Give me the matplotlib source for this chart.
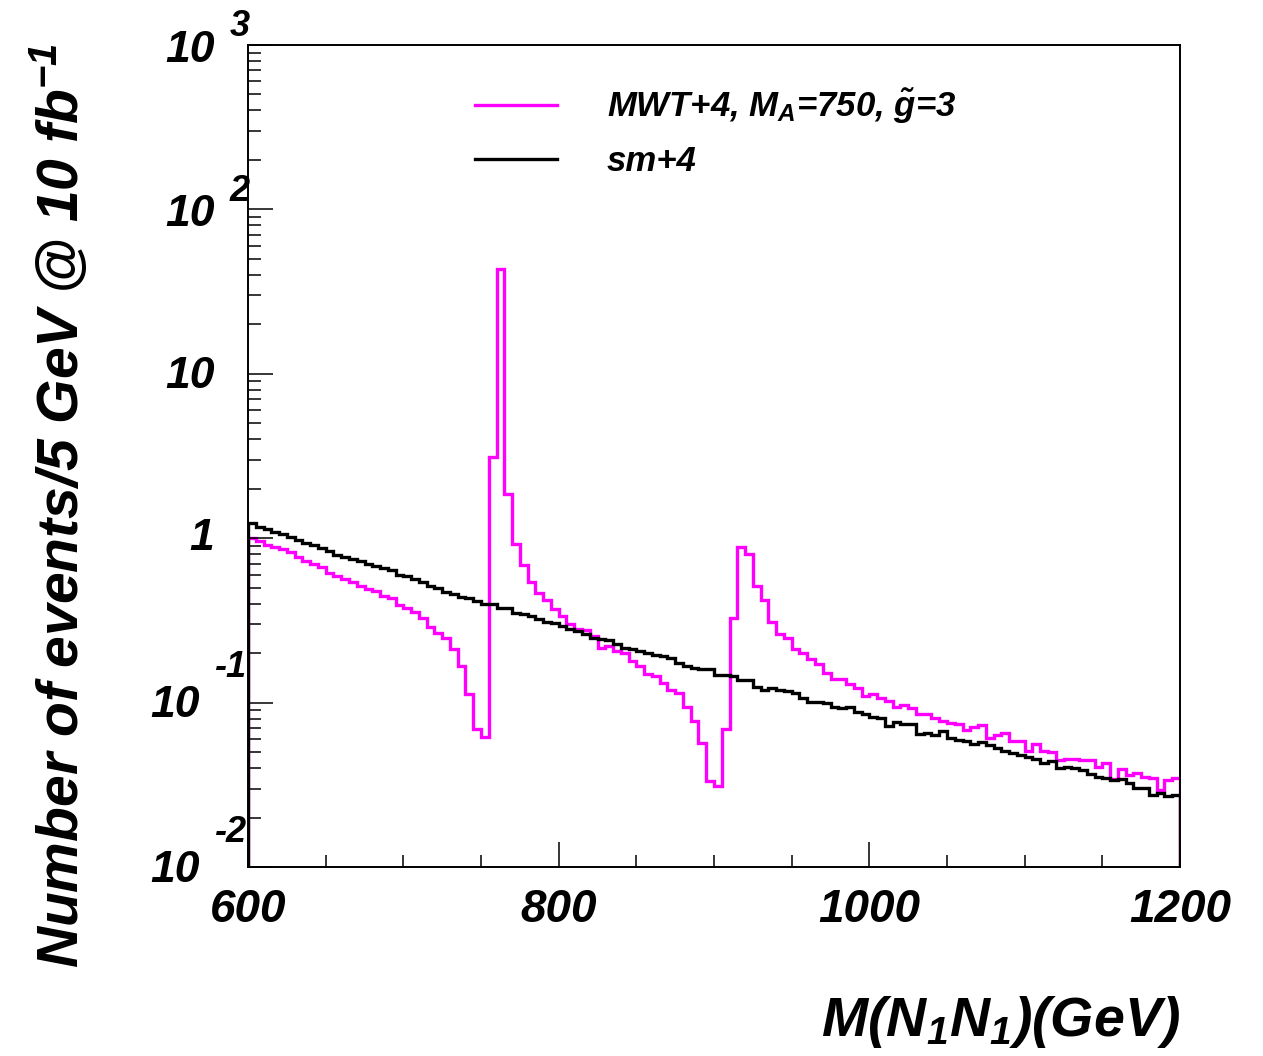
import numpy as np
import matplotlib
matplotlib.use("Agg")
import matplotlib.pyplot as plt
from matplotlib.ticker import FixedLocator, NullFormatter

plt.rcParams["font.family"] = ["Liberation Sans", "DejaVu Sans"]
plt.rcParams["mathtext.fontset"] = "custom"
plt.rcParams["mathtext.rm"] = "Liberation Sans:bold:italic"
plt.rcParams["mathtext.it"] = "Liberation Sans:bold:italic"
plt.rcParams["mathtext.bf"] = "Liberation Sans:bold:italic"

# histogram binning: 5 GeV bins from 600 to 1200 GeV
bin_lo = 600
bin_hi = 1200
bin_width = 5

# events / 5 GeV, MWT+4 (M_A = 750, g~ = 3)
mwt = [0.997, 0.962, 0.909, 0.884, 0.855, 0.824, 0.772, 0.727, 0.700, 0.668,
       0.617, 0.589, 0.562, 0.544, 0.512, 0.488, 0.477, 0.445, 0.435, 0.392,
       0.374, 0.356, 0.328, 0.289, 0.266, 0.248, 0.211, 0.167, 0.113, 0.0694,
       0.0620, 3.12, 43.6, 1.846, 0.917, 0.685, 0.540, 0.466, 0.418, 0.369,
       0.338, 0.302, 0.281, 0.278, 0.254, 0.216, 0.222, 0.205, 0.200, 0.178,
       0.168, 0.149, 0.145, 0.132, 0.120, 0.115, 0.0944, 0.0773, 0.0570, 0.0334,
       0.0311, 0.0687, 0.328, 0.884, 0.805, 0.512, 0.418, 0.308, 0.260, 0.246,
       0.211, 0.201, 0.185, 0.171, 0.152, 0.140, 0.140, 0.129, 0.122, 0.110,
       0.113, 0.107, 0.102, 0.0940, 0.0967, 0.0922, 0.0856, 0.0856, 0.0809, 0.0773,
       0.0747, 0.0744, 0.0677, 0.0710, 0.0731, 0.0612, 0.0635, 0.0656, 0.0586, 0.0586,
       0.0508, 0.0557, 0.0508, 0.0503, 0.0445, 0.0456, 0.0456, 0.0448, 0.0448, 0.0406,
       0.0431, 0.0344, 0.0392, 0.0363, 0.0375, 0.0353, 0.0349, 0.0296, 0.0336, 0.0349]

# events / 5 GeV, sm+4
sm4 = [1.242, 1.175, 1.131, 1.095, 1.055, 1.017, 0.975, 0.939, 0.904, 0.876,
       0.836, 0.786, 0.772, 0.743, 0.727, 0.700, 0.680, 0.662, 0.641, 0.594,
       0.591, 0.562, 0.544, 0.514, 0.495, 0.471, 0.455, 0.439, 0.430, 0.415,
       0.400, 0.396, 0.378, 0.374, 0.352, 0.344, 0.336, 0.324, 0.311, 0.306,
       0.292, 0.279, 0.273, 0.262, 0.248, 0.245, 0.242, 0.226, 0.214, 0.211,
       0.206, 0.201, 0.195, 0.192, 0.187, 0.175, 0.168, 0.163, 0.159, 0.159,
       0.148, 0.148, 0.145, 0.138, 0.138, 0.124, 0.119, 0.122, 0.119, 0.118,
       0.114, 0.106, 0.101, 0.101, 0.0999, 0.0940, 0.0931, 0.0940, 0.0881, 0.0856,
       0.0818, 0.0801, 0.0721, 0.0765, 0.0744, 0.0737, 0.0647, 0.0656, 0.0635, 0.0672,
       0.0612, 0.0592, 0.0584, 0.0562, 0.0578, 0.0552, 0.0526, 0.0508, 0.0496, 0.0480,
       0.0467, 0.0451, 0.0431, 0.0441, 0.0398, 0.0406, 0.0398, 0.0387, 0.0369, 0.0353,
       0.0349, 0.0336, 0.0341, 0.0326, 0.0304, 0.0301, 0.0276, 0.0283, 0.0270, 0.0273]

labels = ["MWT+4, $M_A$=750, $\\tilde{g}$=3", "sm+4"]
x_ticks = [600, 800, 1000, 1200]
y_decades = [-2, -1, 0, 1, 2, 3]

edges = np.arange(bin_lo, bin_hi + bin_width, bin_width)

fig = plt.figure(figsize=(12.63, 10.56), dpi=100)
ax = fig.add_axes([248 / 1263, 1 - 867 / 1056, 932 / 1263, 822 / 1056])

ax.stairs(mwt, edges, color="#ff00ff", linewidth=2.4, label=labels[0])
ax.stairs(sm4, edges, color="black", linewidth=2.4, label=labels[1])

ax.set_yscale("log")
ax.set_xlim(bin_lo, bin_hi)
ax.set_ylim(10.0 ** y_decades[0], 10.0 ** y_decades[-1])

for s in ax.spines.values():
    s.set_linewidth(1.4)

# x ticks, ROOT style (inside, bottom only)
ax.xaxis.set_major_locator(FixedLocator(x_ticks))
ax.xaxis.set_minor_locator(FixedLocator(np.arange(bin_lo, bin_hi + 1, 50)))
ax.set_xticklabels([str(t) for t in x_ticks])
ax.tick_params(axis="x", which="major", direction="in", length=18, width=1.1,
               pad=15, labelsize=33)
ax.tick_params(axis="x", which="minor", direction="in", length=9, width=1.1)
for lab in ax.get_xticklabels():
    lab.set_fontweight("bold")
    lab.set_fontstyle("italic")

# y ticks
ax.yaxis.set_major_locator(FixedLocator([10.0 ** k for k in y_decades]))
minors = [m * 10.0 ** k for k in y_decades[:-1] for m in range(2, 10)]
ax.yaxis.set_minor_locator(FixedLocator(minors))
ax.yaxis.set_major_formatter(NullFormatter())
ax.yaxis.set_minor_formatter(NullFormatter())
ax.tick_params(axis="y", which="major", direction="in", length=18, width=1.1)
ax.tick_params(axis="y", which="minor", direction="in", length=9, width=1.1)

# y tick labels drawn ROOT-like: "10" plus a raised exponent
font = dict(fontsize=32, fontweight="bold", fontstyle="italic")
efont = dict(fontsize=26, fontweight="bold", fontstyle="italic")
for k in y_decades:
    v = 10.0 ** k
    if k == 0:
        ax.annotate("1", xy=(0, v), xycoords=("axes fraction", "data"),
                    xytext=(-34, 0), textcoords="offset pixels",
                    ha="right", va="center", **font)
    elif k == 1:
        ax.annotate("10", xy=(0, v), xycoords=("axes fraction", "data"),
                    xytext=(-33, -3), textcoords="offset pixels",
                    ha="right", va="center", **font)
    elif k > 0:
        ax.annotate("10", xy=(0, v), xycoords=("axes fraction", "data"),
                    xytext=(-33, -5), textcoords="offset pixels",
                    ha="right", va="center", **font)
        ax.annotate(str(k), xy=(0, v), xycoords=("axes fraction", "data"),
                    xytext=(-18, 18), textcoords="offset pixels",
                    ha="left", va="center", **efont)
    else:
        ax.annotate("10", xy=(0, v), xycoords=("axes fraction", "data"),
                    xytext=(-48, -3), textcoords="offset pixels",
                    ha="right", va="center", **font)
        ax.annotate(str(k), xy=(0, v), xycoords=("axes fraction", "data"),
                    xytext=(-34, 35), textcoords="offset pixels",
                    ha="left", va="center", **efont)

ax.set_ylabel("Number of events/5 GeV @ 10 fb$^{-1}$", fontsize=41,
              fontweight="bold", fontstyle="italic")
ax.yaxis.set_label_coords(-0.17, 0.44)
ax.set_xlabel("M(N$_1$N$_1$)(GeV)", fontsize=40, fontweight="bold",
              fontstyle="italic", ha="right")
ax.xaxis.set_label_coords(1.0, -0.155)

leg = ax.legend(loc="upper left", bbox_to_anchor=(0.2436, 0.949), frameon=False,
                fontsize=25, handlelength=2.36, handletextpad=1.44,
                labelspacing=0.55, borderpad=0, borderaxespad=0)
for t in leg.get_texts():
    t.set_fontweight("bold")
    t.set_fontstyle("italic")

fig.savefig("out.png", dpi=100)
